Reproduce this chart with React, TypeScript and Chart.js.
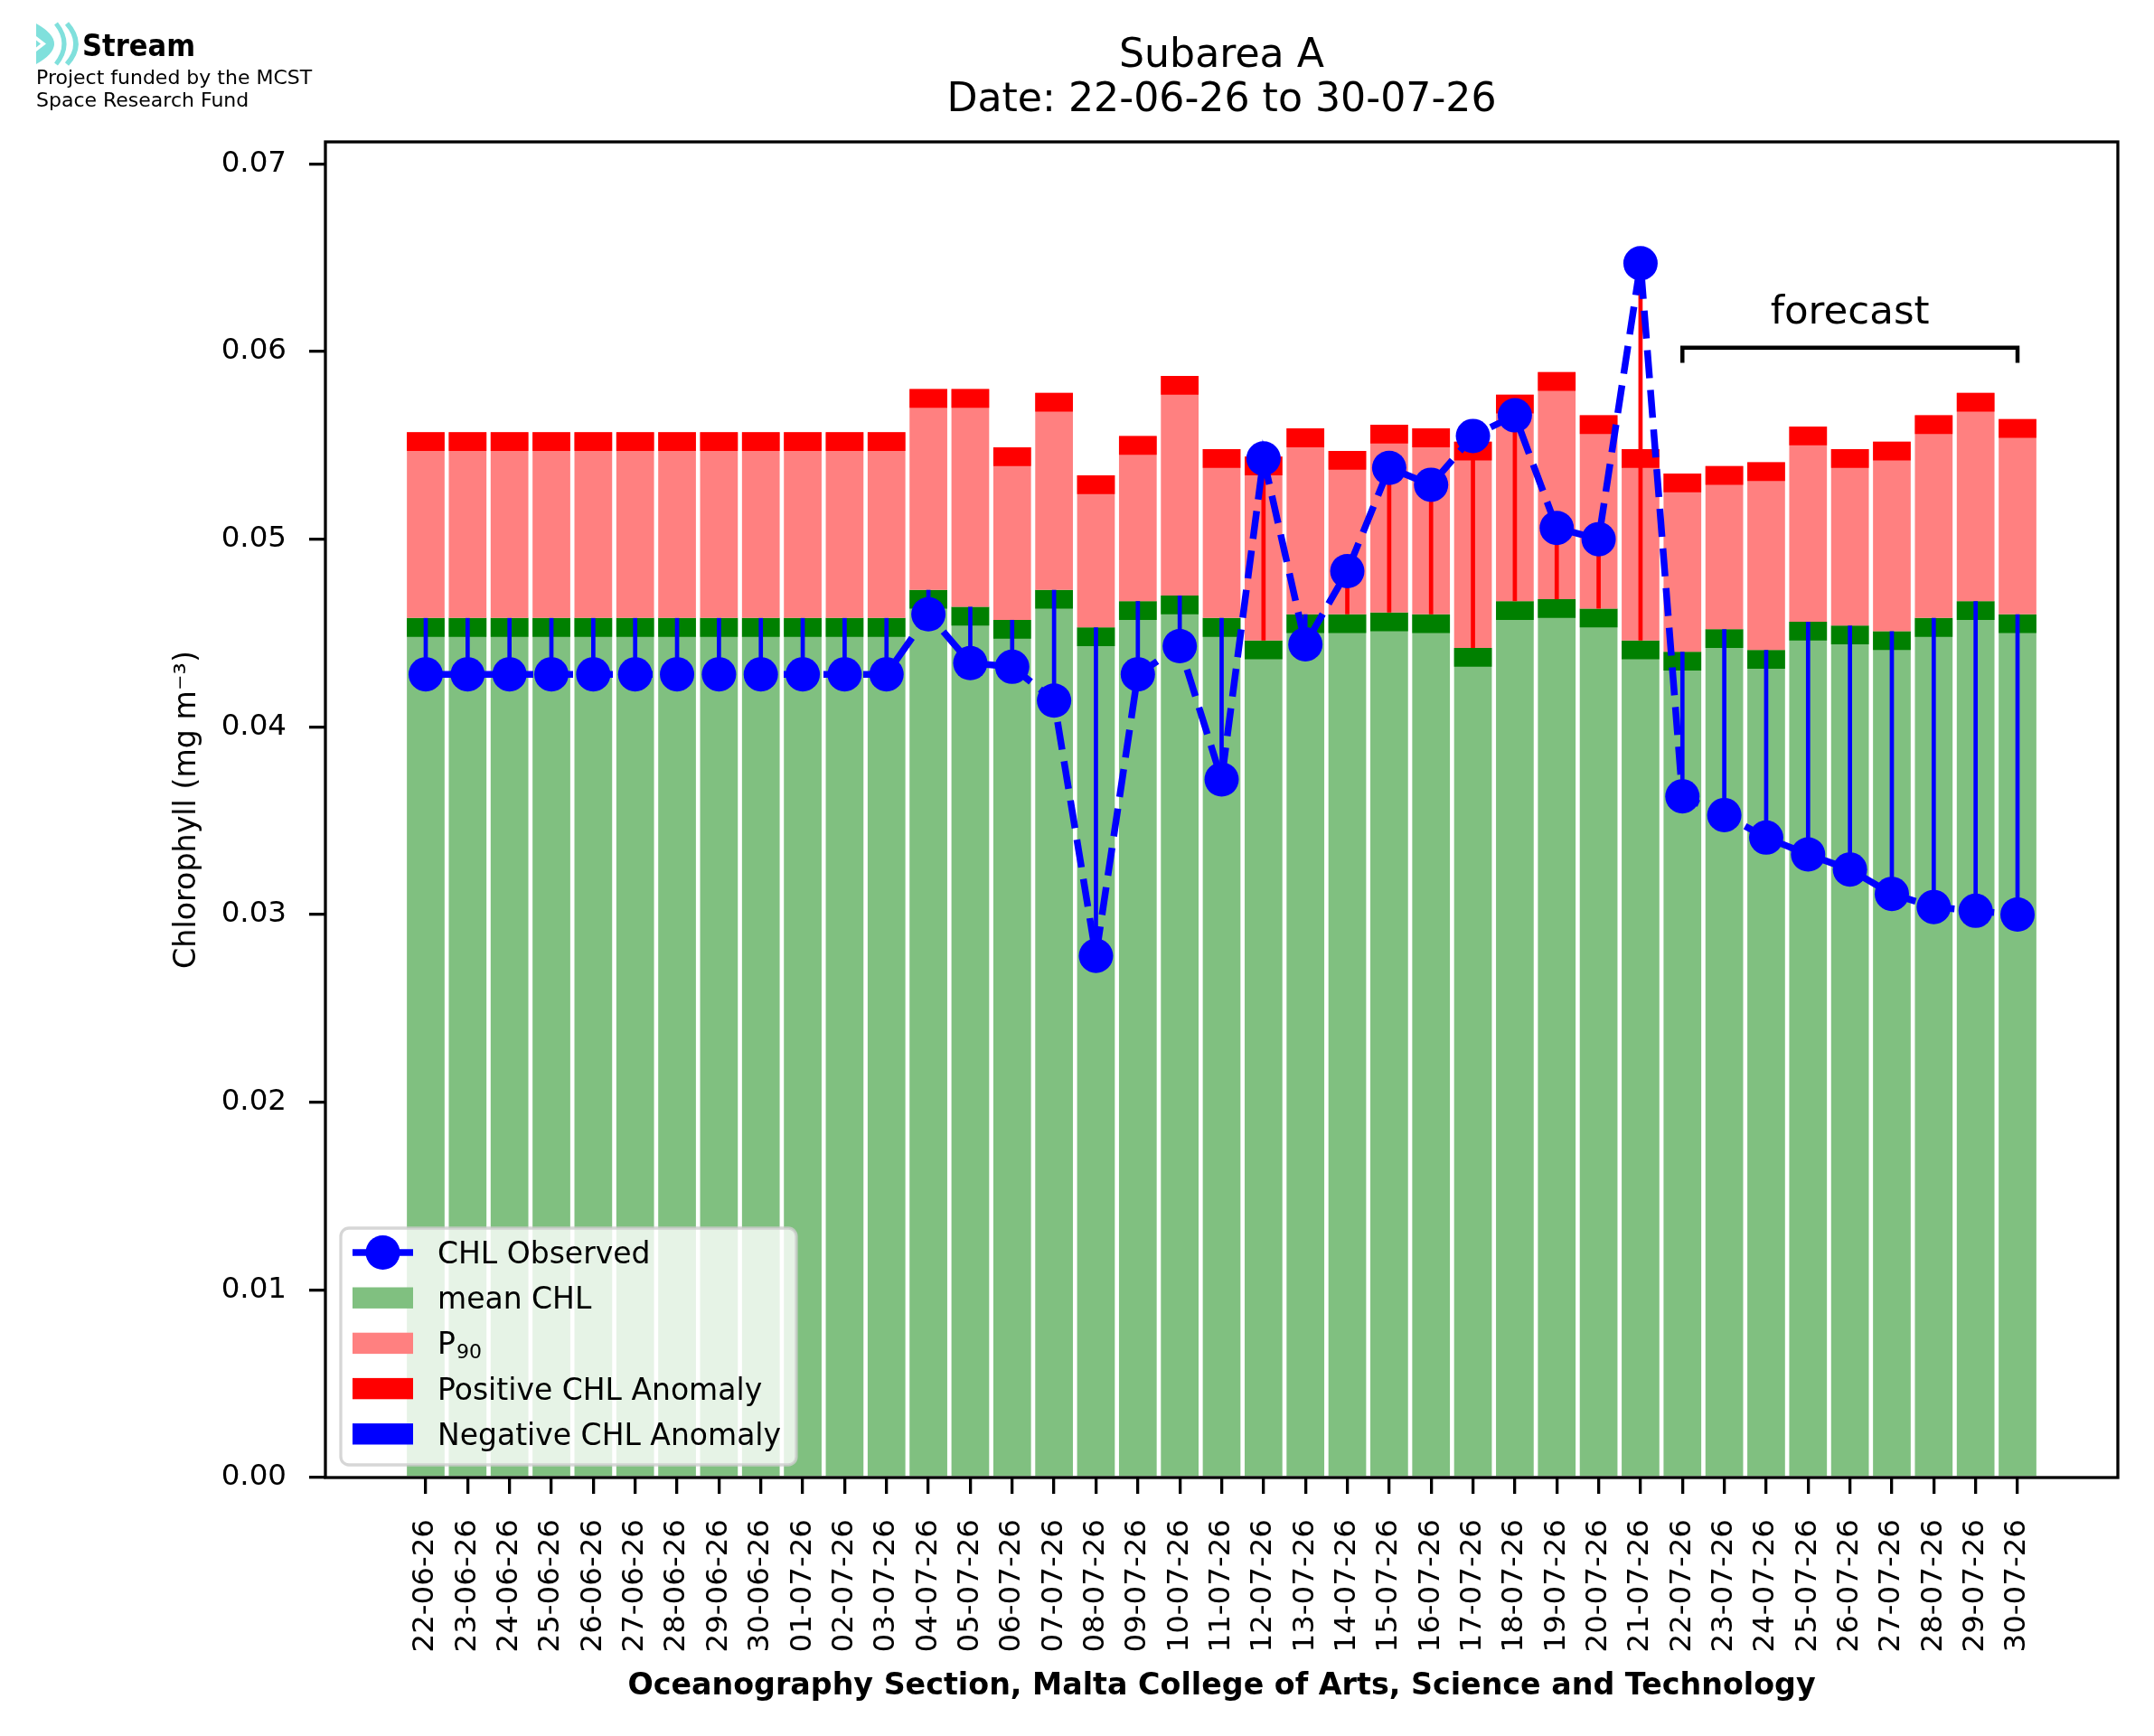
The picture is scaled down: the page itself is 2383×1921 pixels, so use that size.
import React, { useEffect, useRef } from "react";
import { Chart, registerables } from "chart.js";

Chart.register(...registerables);

const W = 2383;
const H = 1921;

const dateLabels = [
  "22-06-26", "23-06-26", "24-06-26", "25-06-26", "26-06-26", "27-06-26", "28-06-26", "29-06-26", "30-06-26",
  "01-07-26", "02-07-26", "03-07-26", "04-07-26", "05-07-26", "06-07-26", "07-07-26", "08-07-26", "09-07-26",
  "10-07-26", "11-07-26", "12-07-26", "13-07-26", "14-07-26", "15-07-26", "16-07-26", "17-07-26", "18-07-26",
  "19-07-26", "20-07-26", "21-07-26", "22-07-26", "23-07-26", "24-07-26", "25-07-26", "26-07-26", "27-07-26",
  "28-07-26", "29-07-26", "30-07-26",
];

const meanChl = [
  0.0458, 0.0458, 0.0458, 0.0458, 0.0458, 0.0458, 0.0458, 0.0458, 0.0458, 0.0458, 0.0458, 0.0458,
  0.0473, 0.0464, 0.0457, 0.0473, 0.0453, 0.0467, 0.0470, 0.0458, 0.0446, 0.0460, 0.0460, 0.0461,
  0.0460, 0.0442, 0.0467, 0.0468, 0.0463, 0.0446, 0.0440, 0.0452, 0.0441, 0.0456, 0.0454, 0.0451,
  0.0458, 0.0467, 0.0460,
];

const p90Chl = [
  0.0557, 0.0557, 0.0557, 0.0557, 0.0557, 0.0557, 0.0557, 0.0557, 0.0557, 0.0557, 0.0557, 0.0557,
  0.0580, 0.0580, 0.0549, 0.0578, 0.0534, 0.0555, 0.0587, 0.0548, 0.0544, 0.0559, 0.0547, 0.0561,
  0.0559, 0.0552, 0.0577, 0.0589, 0.0566, 0.0548, 0.0535, 0.0539, 0.0541, 0.0560, 0.0548, 0.0552,
  0.0566, 0.0578, 0.0564,
];

const obsChl = [
  0.0428, 0.0428, 0.0428, 0.0428, 0.0428, 0.0428, 0.0428, 0.0428, 0.0428, 0.0428, 0.0428, 0.0428,
  0.0460, 0.0434, 0.0432, 0.0414, 0.0278, 0.0428, 0.0443, 0.0372, 0.0543, 0.0444, 0.0483, 0.0538,
  0.0529, 0.0555, 0.0566, 0.0506, 0.0500, 0.0647, 0.0363, 0.0353, 0.0341, 0.0332, 0.0324, 0.0311,
  0.0304, 0.0302, 0.0300,
];

const yTicks = [0, 0.01, 0.02, 0.03, 0.04, 0.05, 0.06, 0.07];

// thickness (in data units) of the dark marker bands at the mean and the P90
const BAND = 0.001;

// forecast bracket annotation (category indices and data values)
const FORECAST_FROM = 30;
const FORECAST_TO = 38;
const BRACKET_Y = 0.0602;
const BRACKET_TICK_Y = 0.0594;
const FORECAST_TEXT_Y = 0.0615;

const X_MIN = -2.395;
const X_MAX = 40.395;
const Y_MAX = 0.07117;

const FONT = '"DejaVu Sans", "Liberation Sans", sans-serif';
const COND = '"DejaVu Sans Condensed", "DejaVu Sans", sans-serif';

const C_LIGHT_GREEN = "#80c080";
const C_GREEN = "#008000";
const C_PINK = "#ff8080";
const C_RED = "#ff0000";
const C_BLUE = "#0000ff";

const idx = dateLabels.map((_, i) => i);

const overlayPlugin = {
  id: "overlay",
  afterDraw(chart: any) {
    const { ctx, chartArea: ca, scales } = chart;
    const x = scales.x;
    const y = scales.y;
    const cx = (ca.left + ca.right) / 2;
    ctx.save();

    // axes spines
    ctx.strokeStyle = "#000";
    ctx.lineWidth = 3.3;
    ctx.lineJoin = "miter";
    ctx.strokeRect(ca.left, ca.top, ca.right - ca.left, ca.bottom - ca.top);

    // forecast bracket
    const bx1 = x.getPixelForValue(FORECAST_FROM);
    const bx2 = x.getPixelForValue(FORECAST_TO);
    const byTop = y.getPixelForValue(BRACKET_Y);
    const byBot = y.getPixelForValue(BRACKET_TICK_Y);
    ctx.lineWidth = 4.5;
    ctx.beginPath();
    ctx.moveTo(bx1, byBot);
    ctx.lineTo(bx1, byTop);
    ctx.lineTo(bx2, byTop);
    ctx.lineTo(bx2, byBot);
    ctx.stroke();
    ctx.fillStyle = "#000";
    ctx.font = `43.5px ${FONT}`;
    ctx.textAlign = "center";
    ctx.textBaseline = "alphabetic";
    ctx.fillText("forecast", (bx1 + bx2) / 2, y.getPixelForValue(FORECAST_TEXT_Y));

    // legend
    const lx = ca.left + 17;
    const ly = ca.bottom - 276;
    const lw = 504;
    const lh = 262;
    const r = 9;
    ctx.beginPath();
    ctx.moveTo(lx + r, ly);
    ctx.lineTo(lx + lw - r, ly);
    ctx.arcTo(lx + lw, ly, lx + lw, ly + r, r);
    ctx.lineTo(lx + lw, ly + lh - r);
    ctx.arcTo(lx + lw, ly + lh, lx + lw - r, ly + lh, r);
    ctx.lineTo(lx + r, ly + lh);
    ctx.arcTo(lx, ly + lh, lx, ly + lh - r, r);
    ctx.lineTo(lx, ly + r);
    ctx.arcTo(lx, ly, lx + r, ly, r);
    ctx.closePath();
    ctx.fillStyle = "rgba(255,255,255,0.8)";
    ctx.fill();
    ctx.strokeStyle = "rgba(204,204,204,0.8)";
    ctx.lineWidth = 3.3;
    ctx.stroke();

    const hx1 = lx + 13;
    const hx2 = lx + 80;
    const tx = lx + 107;
    const rowY = (i: number) => ly + 27 + 50.2 * i;
    ctx.textAlign = "left";
    ctx.textBaseline = "alphabetic";
    ctx.font = `33px ${FONT}`;

    // row 0: observed
    const y0 = rowY(0);
    ctx.strokeStyle = C_BLUE;
    ctx.lineWidth = 7.5;
    ctx.setLineDash([31, 13]);
    ctx.beginPath();
    ctx.moveTo(hx1, y0);
    ctx.lineTo(hx2, y0);
    ctx.stroke();
    ctx.setLineDash([]);
    ctx.fillStyle = C_BLUE;
    ctx.beginPath();
    ctx.arc((hx1 + hx2) / 2, y0, 19, 0, Math.PI * 2);
    ctx.fill();
    ctx.fillStyle = "#000";
    ctx.fillText("CHL Observed", tx, y0 + 12);

    const rects: [string, number][] = [
      [C_LIGHT_GREEN, 1],
      [C_PINK, 2],
      [C_RED, 3],
      [C_BLUE, 4],
    ];
    for (const [col, i] of rects) {
      ctx.fillStyle = col;
      ctx.fillRect(hx1, rowY(i) - 11.7, hx2 - hx1, 23.4);
    }
    ctx.fillStyle = "#000";
    ctx.fillText("mean CHL", tx, rowY(1) + 12);
    ctx.fillText("P", tx, rowY(2) + 12);
    const pw = ctx.measureText("P").width;
    ctx.font = `22px ${FONT}`;
    ctx.fillText("90", tx + pw + 1, rowY(2) + 17);
    ctx.font = `33px ${FONT}`;
    ctx.fillText("Positive CHL Anomaly", tx, rowY(3) + 12);
    ctx.fillText("Negative CHL Anomaly", tx, rowY(4) + 12);

    // titles
    ctx.fillStyle = "#000";
    ctx.textAlign = "center";
    ctx.font = `44.2px ${FONT}`;
    ctx.fillText("Subarea A", cx, 74);
    ctx.fillText(`Date: ${dateLabels[0]} to ${dateLabels[dateLabels.length - 1]}`, cx, 123);

    // x axis title
    ctx.font = `bold 33.3px ${FONT}`;
    ctx.fillText("Oceanography Section, Malta College of Arts, Science and Technology", cx, 1875);

    // y axis title
    ctx.save();
    ctx.translate(216, (ca.top + ca.bottom) / 2);
    ctx.rotate(-Math.PI / 2);
    ctx.font = `33.3px ${FONT}`;
    ctx.textAlign = "center";
    ctx.fillText("Chlorophyll (mg m\u207B\u00B3)", 0, 0);
    ctx.restore();

    // logo
    const cyan = "#80e0dc";
    ctx.fillStyle = cyan;
    ctx.beginPath();
    ctx.moveTo(40, 26);
    ctx.quadraticCurveTo(80, 48.5, 40, 71);
    ctx.closePath();
    ctx.fill();
    ctx.fillStyle = "#fff";
    ctx.beginPath();
    ctx.moveTo(40, 40);
    ctx.lineTo(51, 48.5);
    ctx.lineTo(40, 57);
    ctx.lineTo(40, 52.5);
    ctx.lineTo(45, 48.5);
    ctx.lineTo(40, 44.5);
    ctx.closePath();
    ctx.fill();
    ctx.strokeStyle = cyan;
    ctx.lineCap = "butt";
    ctx.lineWidth = 5;
    ctx.beginPath();
    ctx.moveTo(62, 26);
    ctx.quadraticCurveTo(80, 48.5, 62, 71);
    ctx.stroke();
    ctx.lineWidth = 5.5;
    ctx.beginPath();
    ctx.moveTo(74, 26);
    ctx.quadraticCurveTo(94, 48.5, 74, 71);
    ctx.stroke();

    ctx.fillStyle = "#000";
    ctx.textAlign = "left";
    try {
      (ctx as any).fontStretch = "condensed";
    } catch (e) {
      /* ignore */
    }
    ctx.font = `bold 34px ${COND}`;
    ctx.fillText("Stream", 91, 62);
    try {
      (ctx as any).fontStretch = "normal";
    } catch (e) {
      /* ignore */
    }
    ctx.font = `22px ${FONT}`;
    ctx.fillText("Project funded by the MCST", 40, 93);
    ctx.fillText("Space Research Fund", 40, 118);

    ctx.restore();
  },
};

function barSet(label: string, color: string, order: number, range: (i: number) => number[] | null, thin = false) {
  const ds: any = {
    type: "bar",
    label,
    data: idx.map((i) => ({ x: i, y: range(i) })),
    backgroundColor: color,
    borderWidth: 0,
    grouped: false,
    order,
    categoryPercentage: 1,
    barPercentage: 0.9,
  };
  if (thin) ds.maxBarThickness = 4.7;
  return ds;
}

export default function App() {
  const ref = useRef<HTMLCanvasElement | null>(null);

  useEffect(() => {
    document.body.style.margin = "0";
    document.body.style.background = "#fff";
    const canvas = ref.current;
    if (!canvas) return;

    const datasets: any[] = [
      {
        type: "line",
        label: "CHL Observed",
        data: idx.map((i) => ({ x: i, y: obsChl[i] })),
        borderColor: C_BLUE,
        backgroundColor: C_BLUE,
        borderWidth: 7.5,
        borderDash: [31, 13],
        pointRadius: 19,
        pointHoverRadius: 19,
        pointBorderWidth: 0,
        pointBackgroundColor: C_BLUE,
        tension: 0,
        fill: false,
        order: 0,
      },
      barSet("Positive CHL Anomaly", C_RED, 1, (i) => (obsChl[i] > meanChl[i] ? [meanChl[i], obsChl[i]] : null), true),
      barSet("Negative CHL Anomaly", C_BLUE, 1, (i) => (obsChl[i] < meanChl[i] ? [obsChl[i], meanChl[i]] : null), true),
      barSet("P90 band", C_RED, 2, (i) => [p90Chl[i] - BAND, p90Chl[i]]),
      barSet("P90", C_PINK, 3, (i) => [meanChl[i], p90Chl[i]]),
      barSet("mean band", C_GREEN, 4, (i) => [meanChl[i] - BAND, meanChl[i]]),
      barSet("mean CHL", C_LIGHT_GREEN, 5, (i) => [0, meanChl[i]]),
    ];

    const chart = new Chart(canvas, {
      type: "bar",
      data: { datasets },
      plugins: [overlayPlugin],
      options: {
        responsive: false,
        animation: false,
        devicePixelRatio: 1,
        events: [],
        layout: { padding: { left: 0, right: 40, top: 157, bottom: 0 } },
        plugins: {
          legend: { display: false },
          title: { display: false },
          tooltip: { enabled: false },
        },
        scales: {
          x: {
            type: "linear",
            min: X_MIN,
            max: X_MAX,
            offset: false,
            grid: {
              display: true,
              drawOnChartArea: false,
              drawTicks: true,
              tickLength: 18,
              tickWidth: 3.3,
              lineWidth: 3.3,
              tickColor: "#000",
              color: "#000",
              offset: false,
            },
            border: { display: false },
            ticks: {
              autoSkip: false,
              minRotation: 90,
              maxRotation: 90,
              padding: 28,
              color: "#000",
              font: { family: FONT, size: 32.5 },
              callback: (v: any) => dateLabels[Math.round(Number(v))] ?? "",
            },
            afterBuildTicks: (s: any) => {
              s.ticks = idx.map((i) => ({ value: i }));
            },
            afterFit: (s: any) => {
              s.height = 286;
            },
          },
          y: {
            type: "linear",
            min: 0,
            max: Y_MAX,
            grid: {
              display: true,
              drawOnChartArea: false,
              drawTicks: true,
              tickLength: 18,
              tickWidth: 3.3,
              lineWidth: 3.3,
              tickColor: "#000",
              color: "#000",
            },
            border: { display: false },
            ticks: {
              padding: 25,
              color: "#000",
              font: { family: FONT, size: 32.5 },
              callback: (v: any) => Number(v).toFixed(2),
            },
            afterBuildTicks: (s: any) => {
              s.ticks = yTicks.map((v) => ({ value: v }));
            },
            afterFit: (s: any) => {
              s.width = 360;
            },
          },
        },
      } as any,
    } as any);

    return () => chart.destroy();
  }, []);

  return (
    <div style={{ position: "absolute", left: 0, top: 0, width: W, height: H, background: "#fff", overflow: "hidden" }}>
      <canvas ref={ref} width={W} height={H} style={{ display: "block", width: W, height: H }} />
    </div>
  );
}
